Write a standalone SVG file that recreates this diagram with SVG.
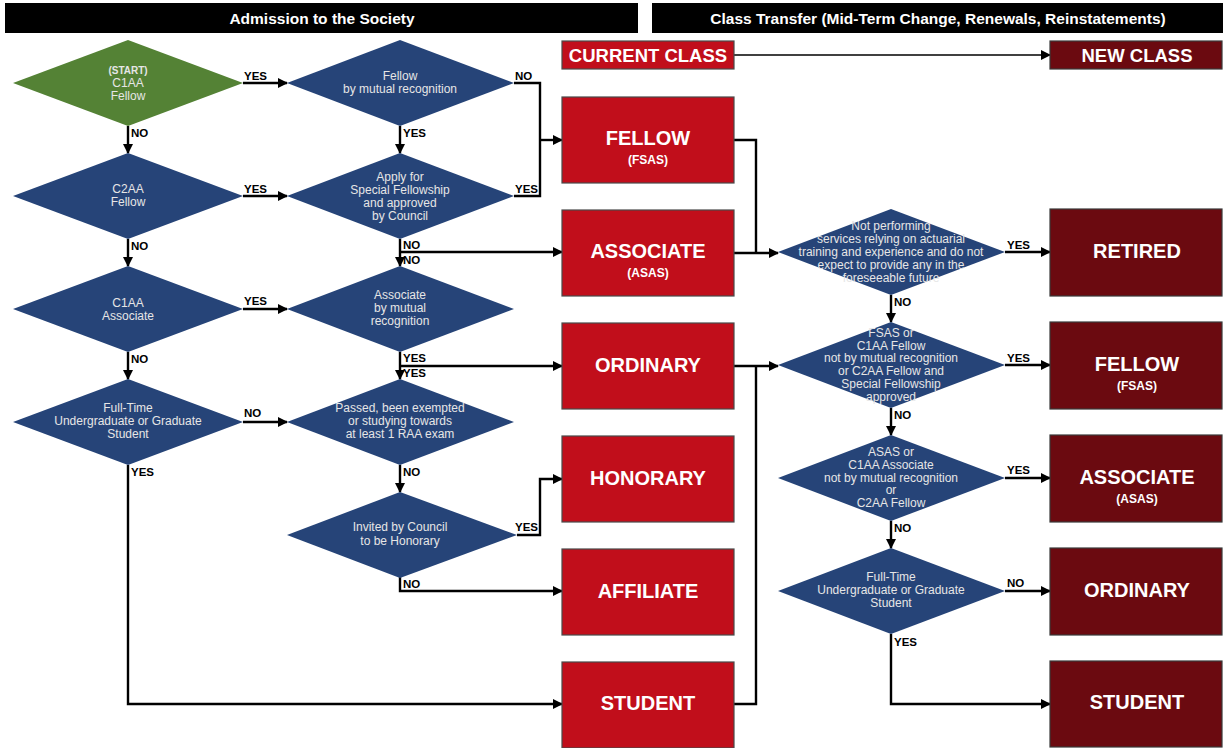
<svg xmlns="http://www.w3.org/2000/svg" width="1223" height="748" viewBox="0 0 1223 748">
<style>
.hdr{fill:#000}
.hdrt{font-family:"Liberation Sans",Arial,sans-serif;font-weight:bold;font-size:15.5px;fill:#fff;text-anchor:middle;dominant-baseline:central}
.dia{fill:#264478}
.start{fill:#548235}
.dt{font-family:"Liberation Sans",Arial,sans-serif;font-size:12px;fill:#e6e6e6;text-anchor:middle;dominant-baseline:central}
.dtb{font-family:"Liberation Sans",Arial,sans-serif;font-size:10px;font-weight:bold;fill:#e6e6e6;text-anchor:middle;dominant-baseline:central}
.cur{fill:#c10e1b;stroke:#4a4a4a;stroke-width:1.2}
.nw{fill:#6b0a10;stroke:#3a3a3a;stroke-width:1.2}
.bt{font-family:"Liberation Sans",Arial,sans-serif;font-weight:bold;font-size:20px;fill:#fff;text-anchor:middle;dominant-baseline:central}
.bs{font-family:"Liberation Sans",Arial,sans-serif;font-weight:bold;font-size:12px;fill:#fff;text-anchor:middle;dominant-baseline:central}
.ct{font-family:"Liberation Sans",Arial,sans-serif;font-weight:bold;font-size:18.5px;fill:#fff;text-anchor:middle;dominant-baseline:central}
.lbl{font-family:"Liberation Sans",Arial,sans-serif;font-weight:bold;font-size:11.5px;fill:#000;dominant-baseline:central}
.c{fill:none;stroke:#000;stroke-width:2.4}
.ca{fill:none;stroke:#000;stroke-width:2.4;marker-end:url(#ah)}
.thin{fill:none;stroke:#000;stroke-width:1.6;marker-end:url(#ah)}
</style>
<defs>
<marker id="ah" viewBox="0 0 10 10" refX="9" refY="5" markerWidth="10" markerHeight="10" markerUnits="userSpaceOnUse" orient="auto">
<path d="M0,0 L10,5 L0,10 z" fill="#000"/>
</marker>
</defs>

<g id="headers">
<rect class="hdr" x="5" y="3" width="633" height="30"/>
<text class="hdrt" x="322" y="18.5">Admission to the Society</text>
<rect class="hdr" x="652" y="3" width="571" height="30"/>
<text class="hdrt" x="938" y="18.5">Class Transfer (Mid-Term Change, Renewals, Reinstatements)</text>
</g>

<g id="connectors">
<path class="ca" d="M243,83 H287"/>
<path class="c" d="M514,83 H540 V196 H514"/>
<path class="ca" d="M540,140 H562"/>
<path class="ca" d="M128,126 V153"/>
<path class="ca" d="M400,126 V153"/>
<path class="ca" d="M243,196 H287"/>
<path class="ca" d="M128,239 V266"/>
<path class="ca" d="M400,239 V266"/>
<path class="ca" d="M400,252 H562"/>
<path class="ca" d="M243,309 H287"/>
<path class="ca" d="M128,352 V379"/>
<path class="ca" d="M400,352 V379"/>
<path class="ca" d="M400,366 H562"/>
<path class="ca" d="M243,422 H287"/>
<path class="ca" d="M128,465 V704 H562"/>
<path class="ca" d="M400,465 V492"/>
<path class="ca" d="M517,535 H540 V479 H562"/>
<path class="ca" d="M400,577 V591 H562"/>
<path class="c" d="M734,140 H756 V253"/>
<path class="ca" d="M734,253 H778"/>
<path class="ca" d="M734,366 H778"/>
<path class="c" d="M734,704 H756 V366"/>
<path class="ca" d="M1005,252 H1050"/>
<path class="ca" d="M891,295 V322"/>
<path class="ca" d="M1005,365 H1050"/>
<path class="ca" d="M891,408 V435"/>
<path class="ca" d="M1005,478 H1050"/>
<path class="ca" d="M891,521 V548"/>
<path class="ca" d="M1005,591 H1050"/>
<path class="ca" d="M891,634 V704 H1050"/>
<path class="thin" d="M734,55 H1050"/>
</g>

<g id="labels">
<text class="lbl" x="244" y="76">YES</text>
<text class="lbl" x="515" y="76">NO</text>
<text class="lbl" x="131" y="133">NO</text>
<text class="lbl" x="403" y="133">YES</text>
<text class="lbl" x="244" y="189">YES</text>
<text class="lbl" x="515" y="189">YES</text>
<text class="lbl" x="131" y="246">NO</text>
<text class="lbl" x="403" y="245">NO</text>
<text class="lbl" x="403" y="260">NO</text>
<text class="lbl" x="244" y="301">YES</text>
<text class="lbl" x="131" y="359">NO</text>
<text class="lbl" x="403" y="358">YES</text>
<text class="lbl" x="403" y="373">YES</text>
<text class="lbl" x="244" y="413">NO</text>
<text class="lbl" x="131" y="472">YES</text>
<text class="lbl" x="403" y="472">NO</text>
<text class="lbl" x="515" y="527">YES</text>
<text class="lbl" x="403" y="584">NO</text>
<text class="lbl" x="1007" y="245">YES</text>
<text class="lbl" x="894" y="302">NO</text>
<text class="lbl" x="1007" y="358">YES</text>
<text class="lbl" x="894" y="415">NO</text>
<text class="lbl" x="1007" y="470">YES</text>
<text class="lbl" x="894" y="528">NO</text>
<text class="lbl" x="1007" y="583">NO</text>
<text class="lbl" x="894" y="642">YES</text>
</g>

<g id="d-start">
<polygon class="start" points="128,40 243,83 128,126 13,83"/>
<text class="dtb" x="128" y="70">(START)</text>
<text class="dt" x="128" y="83">C1AA</text>
<text class="dt" x="128" y="96">Fellow</text>
</g>
<g id="d-fellow-mutual">
<polygon class="dia" points="400,40 514,83 400,126 287,83"/>
<text class="dt" x="400" y="76">Fellow</text>
<text class="dt" x="400" y="89">by mutual recognition</text>
</g>
<g id="d-c2aa">
<polygon class="dia" points="128,153 243,196 128,239 13,196"/>
<text class="dt" x="128" y="189">C2AA</text>
<text class="dt" x="128" y="202">Fellow</text>
</g>
<g id="d-apply">
<polygon class="dia" points="400,153 514,196 400,239 287,196"/>
<text class="dt" x="400" y="177">Apply for</text>
<text class="dt" x="400" y="190">Special Fellowship</text>
<text class="dt" x="400" y="203">and approved</text>
<text class="dt" x="400" y="216">by Council</text>
</g>
<g id="d-c1aa-assoc">
<polygon class="dia" points="128,266 243,309 128,352 13,309"/>
<text class="dt" x="128" y="303">C1AA</text>
<text class="dt" x="128" y="316">Associate</text>
</g>
<g id="d-assoc-mutual">
<polygon class="dia" points="400,266 514,309 400,352 287,309"/>
<text class="dt" x="400" y="295">Associate</text>
<text class="dt" x="400" y="308">by mutual</text>
<text class="dt" x="400" y="321">recognition</text>
</g>
<g id="d-fulltime">
<polygon class="dia" points="128,379 243,422 128,465 13,422"/>
<text class="dt" x="128" y="408">Full-Time</text>
<text class="dt" x="128" y="421">Undergraduate or Graduate</text>
<text class="dt" x="128" y="434">Student</text>
</g>
<g id="d-passed">
<polygon class="dia" points="400,379 514,422 400,465 287,422"/>
<text class="dt" x="400" y="408">Passed, been exempted</text>
<text class="dt" x="400" y="421">or studying towards</text>
<text class="dt" x="400" y="434">at least 1 RAA exam</text>
</g>
<g id="d-invited">
<polygon class="dia" points="400,492 517,535 400,578 287,535"/>
<text class="dt" x="400" y="527">Invited by Council</text>
<text class="dt" x="400" y="541">to be Honorary</text>
</g>

<g id="b-current-class">
<rect class="cur" x="562" y="41" width="172" height="28"/>
<text class="ct" x="648" y="55.5">CURRENT CLASS</text>
</g>
<g id="b-new-class">
<rect class="nw" x="1050" y="41" width="172" height="28"/>
<text class="ct" x="1137" y="55.5">NEW CLASS</text>
</g>

<g id="b-fellow">
<rect class="cur" x="562" y="97" width="172" height="86"/>
<text class="bt" x="648" y="138">FELLOW</text>
<text class="bs" x="648" y="160">(FSAS)</text>
</g>
<g id="b-associate">
<rect class="cur" x="562" y="210" width="172" height="86"/>
<text class="bt" x="648" y="251">ASSOCIATE</text>
<text class="bs" x="648" y="273">(ASAS)</text>
</g>
<g id="b-ordinary">
<rect class="cur" x="562" y="323" width="172" height="86"/>
<text class="bt" x="648" y="365">ORDINARY</text>
</g>
<g id="b-honorary">
<rect class="cur" x="562" y="436" width="172" height="86"/>
<text class="bt" x="648" y="478">HONORARY</text>
</g>
<g id="b-affiliate">
<rect class="cur" x="562" y="549" width="172" height="86"/>
<text class="bt" x="648" y="591">AFFILIATE</text>
</g>
<g id="b-student">
<rect class="cur" x="562" y="662" width="172" height="86"/>
<text class="bt" x="648" y="703">STUDENT</text>
</g>

<g id="d-retired-q">
<polygon class="dia" points="891,209 1005,252 891,295 778,252"/>
<text class="dt" x="891" y="226">Not performing</text>
<text class="dt" x="891" y="239">services relying on actuarial</text>
<text class="dt" x="891" y="252">training and experience and do not</text>
<text class="dt" x="891" y="265">expect to provide any in the</text>
<text class="dt" x="891" y="278">foreseeable future</text>
</g>
<g id="d-fsas-q">
<polygon class="dia" points="891,322 1005,365 891,408 778,365"/>
<text class="dt" x="891" y="333">FSAS or</text>
<text class="dt" x="891" y="346">C1AA Fellow</text>
<text class="dt" x="891" y="358">not by mutual recognition</text>
<text class="dt" x="891" y="371">or C2AA Fellow and</text>
<text class="dt" x="891" y="384">Special Fellowship</text>
<text class="dt" x="891" y="397">approved</text>
</g>
<g id="d-asas-q">
<polygon class="dia" points="891,435 1005,478 891,521 778,478"/>
<text class="dt" x="891" y="452">ASAS or</text>
<text class="dt" x="891" y="465">C1AA Associate</text>
<text class="dt" x="891" y="478">not by mutual recognition</text>
<text class="dt" x="891" y="490">or</text>
<text class="dt" x="891" y="503">C2AA Fellow</text>
</g>
<g id="d-student-q">
<polygon class="dia" points="891,548 1005,591 891,634 778,591"/>
<text class="dt" x="891" y="577">Full-Time</text>
<text class="dt" x="891" y="590">Undergraduate or Graduate</text>
<text class="dt" x="891" y="603">Student</text>
</g>

<g id="n-retired">
<rect class="nw" x="1050" y="209" width="172" height="87"/>
<text class="bt" x="1137" y="251">RETIRED</text>
</g>
<g id="n-fellow">
<rect class="nw" x="1050" y="322" width="172" height="87"/>
<text class="bt" x="1137" y="364">FELLOW</text>
<text class="bs" x="1137" y="386">(FSAS)</text>
</g>
<g id="n-associate">
<rect class="nw" x="1050" y="435" width="172" height="87"/>
<text class="bt" x="1137" y="477">ASSOCIATE</text>
<text class="bs" x="1137" y="499">(ASAS)</text>
</g>
<g id="n-ordinary">
<rect class="nw" x="1050" y="548" width="172" height="87"/>
<text class="bt" x="1137" y="590">ORDINARY</text>
</g>
<g id="n-student">
<rect class="nw" x="1050" y="661" width="172" height="86"/>
<text class="bt" x="1137" y="702">STUDENT</text>
</g>
</svg>
